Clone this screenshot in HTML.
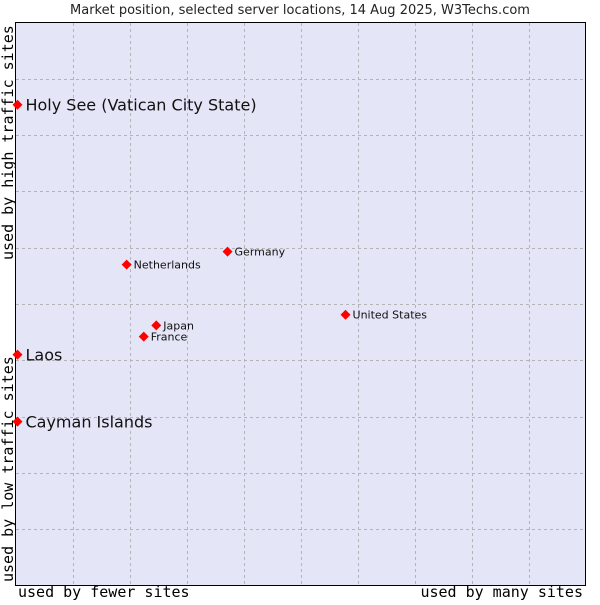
<!DOCTYPE html>
<html><head><meta charset="utf-8"><style>
body{margin:0;background:#fff;width:600px;height:600px;overflow:hidden}
svg text{font-family:"DejaVu Sans","Liberation Sans",sans-serif}
.mono{font-family:"DejaVu Sans Mono","Liberation Mono",monospace}
</style></head><body>
<svg id="chart" width="600" height="600">
<text x="300" y="14" text-anchor="middle" font-size="13" fill="#222">Market position, selected server locations, 14 Aug 2025, W3Techs.com</text>
<rect x="15.5" y="22.5" width="570" height="563" fill="#e4e5f7" stroke="#000"/>
<g id="grid"></g>
<g id="points"></g>
<text class="mono" x="18" y="597" font-size="15" fill="#000">used by fewer sites</text>
<text class="mono" x="583" y="597" font-size="15" fill="#000" text-anchor="end">used by many sites</text>
<text class="mono" transform="translate(13,582) rotate(-90)" font-size="15" fill="#000">used by low traffic sites</text>
<text class="mono" transform="translate(13,260) rotate(-90)" font-size="15" fill="#000">used by high traffic sites</text>
</svg>
<script>
const names=["Holy See (Vatican City State)","Laos","Cayman Islands","Netherlands","Germany","United States","Japan","France"];
const xVals=[0.35,0.35,0.35,19.5,37.2,57.9,24.7,22.5];
const yVals=[85.4,41.0,29.1,57.0,59.3,48.1,46.2,44.2];
const bigLabel=[true,true,true,false,false,false,false,false];
const X0=15.5,W=570,Y0=585.5,H=563;
const sx=v=>X0+v/100*W, sy=v=>Y0-v/100*H;
const ns="http://www.w3.org/2000/svg";
const grid=document.getElementById('grid');
for(let i=1;i<10;i++){
  const gx=Math.round(X0+i*W/10)+0.5;
  const l=document.createElementNS(ns,'line');
  l.setAttribute('x1',gx);l.setAttribute('x2',gx);l.setAttribute('y1',23);l.setAttribute('y2',585);
  l.setAttribute('stroke','#b4b4b4');l.setAttribute('stroke-dasharray','3,3');
  
  
  grid.appendChild(l);
  const gy=Math.round(Y0-i*H/10)+0.5;
  const m=document.createElementNS(ns,'line');
  m.setAttribute('x1',16);m.setAttribute('x2',585);m.setAttribute('y1',gy);m.setAttribute('y2',gy);
  m.setAttribute('stroke','#b4b4b4');m.setAttribute('stroke-dasharray','3,3');
  
  
  grid.appendChild(m);
}
const pts=document.getElementById('points');
names.forEach((n,i)=>{
  const x=sx(xVals[i]),y=sy(yVals[i]);
  const p=document.createElementNS(ns,'polygon');
  p.setAttribute('points',`${x},${y-5} ${x+5},${y} ${x},${y+5} ${x-5},${y}`);
  p.setAttribute('fill','#f00');
  
  
  pts.appendChild(p);
  const t=document.createElementNS(ns,'text');
  t.setAttribute('x',x+(bigLabel[i]?8:7));
  t.setAttribute('y',y+(bigLabel[i]?6:4));
  t.setAttribute('font-size',bigLabel[i]?16:11);
  t.setAttribute('fill','#111');
  t.textContent=n;
  
  
  pts.appendChild(t);
});
</script>
</body></html>
